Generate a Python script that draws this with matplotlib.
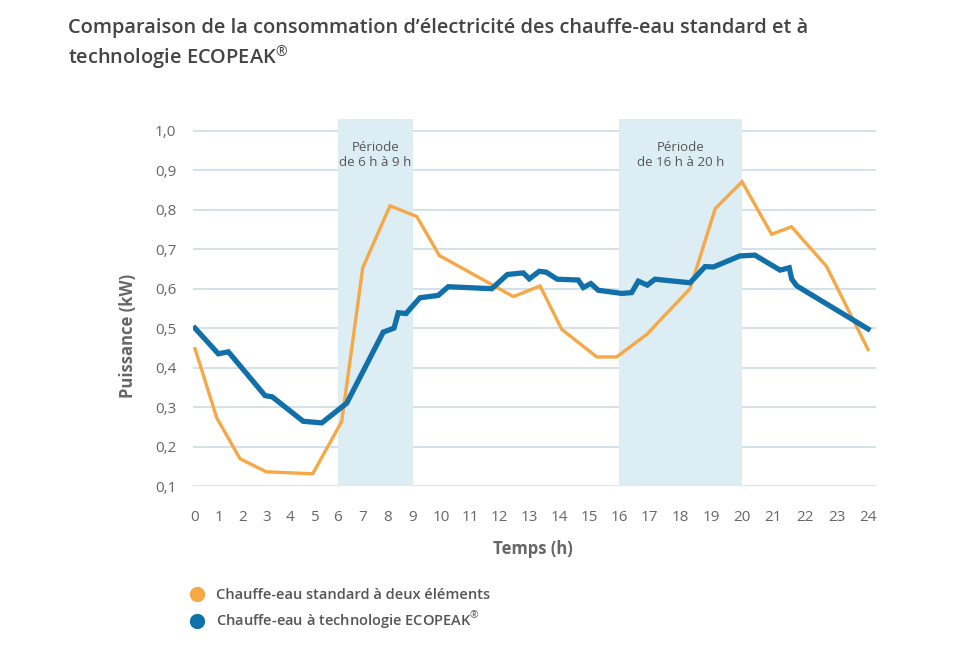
import numpy as np
import matplotlib
matplotlib.use('Agg')
import matplotlib.pyplot as plt
from matplotlib.lines import Line2D

plt.rcParams['font.family'] = ['Open Sans', 'DejaVu Sans']
plt.rcParams['mathtext.fontset'] = 'custom'
plt.rcParams['mathtext.rm'] = 'Open Sans'
plt.rcParams['mathtext.bf'] = 'Open Sans:bold'

# data
std_hours = [0, 0.91, 1.89, 2.99, 4.94, 6.15, 6.99, 8.08, 9.13, 9.92, 12.48, 13.37,
             14.09, 15.26, 15.92, 16.90, 18.31, 19.13, 20.0, 20.94, 21.57, 22.68, 24]
std_kw = [0.448, 0.273, 0.169, 0.136, 0.131, 0.264, 0.653, 0.81, 0.783, 0.684, 0.58, 0.607,
          0.497, 0.427, 0.427, 0.484, 0.60, 0.803, 0.871, 0.738, 0.757, 0.657, 0.446]

eco_hours = [0, 0.98, 1.40, 2.94, 3.24, 4.54, 5.32, 6.35, 7.81, 8.24, 8.41, 8.72, 9.24,
             9.88, 10.23, 11.75, 12.28, 12.81, 13.01, 13.34, 13.57, 13.94, 14.64, 14.81,
             15.06, 15.31, 16.09, 16.41, 16.63, 16.92, 17.17, 18.31, 18.80, 19.07, 19.93,
             20.41, 21.21, 21.50, 21.58, 21.74, 24]
eco_kw = [0.50, 0.435, 0.44, 0.329, 0.326, 0.264, 0.26, 0.31, 0.49, 0.50, 0.539, 0.537, 0.577,
          0.583, 0.605, 0.60, 0.636, 0.64, 0.625, 0.644, 0.642, 0.624, 0.622, 0.603,
          0.613, 0.596, 0.588, 0.59, 0.619, 0.609, 0.624, 0.615, 0.656, 0.655, 0.683,
          0.685, 0.647, 0.653, 0.624, 0.607, 0.498]

periods = [(6, 9), (16, 20)]
period_labels = ['Période\nde 6 h à 9 h', 'Période\nde 16 h à 20 h']
hour_ticks = list(range(0, 25))
kw_ticks = [0.1, 0.2, 0.3, 0.4, 0.5, 0.6, 0.7, 0.8, 0.9, 1.0]

ORANGE = '#f7a846'
BLUE = '#1170aa'
GREY = '#666666'

# the hour axis of the original is not evenly spaced
hk = np.array([-1, 0, 6, 9, 12, 16, 20, 24, 25], dtype=float)
pk = np.array([171.2, 195, 338, 413, 499, 619, 742, 868, 899.5])


def fwd(h):
    return np.interp(h, hk, pk)


def inv(p):
    return np.interp(p, pk, hk)


fig = plt.figure(figsize=(9.79, 6.53), dpi=100)
ax = fig.add_axes([193 / 979, 1 - 486 / 653, 683 / 979, 367 / 653])
ax.set_xscale('function', functions=(fwd, inv))

for (a, b), lab in zip(periods, period_labels):
    ax.axvspan(a, b, color='#dcedf3', lw=0, zorder=1)
    ax.text((a + b) / 2, 0.940, lab, ha='center', va='center', fontsize=9.5,
            color='#555555', linespacing=1.2, zorder=3)

ax.plot(std_hours, std_kw, color=ORANGE, lw=2.4, zorder=4, solid_joinstyle='miter')
ax.plot(eco_hours, eco_kw, color=BLUE, lw=3.8, zorder=5, solid_joinstyle='miter')

ax.set_xlim(inv(193), inv(876))
ax.set_ylim(0.1, 1.03)
ax.set_xticks(hour_ticks)
ax.set_xticklabels([str(h) for h in hour_ticks])
ax.set_yticks(kw_ticks)
ax.set_yticklabels([f'{v:.1f}'.replace('.', ',') for v in kw_ticks])
ax.xaxis.set_minor_locator(matplotlib.ticker.NullLocator())
ax.tick_params(length=0, labelsize=11, labelcolor=GREY)
ax.tick_params(axis='x', pad=17)
ax.tick_params(axis='y', pad=12)
for s in ax.spines.values():
    s.set_visible(False)
ax.set_axisbelow(True)
ax.grid(axis='y', color='#cfdfe8', lw=1.3)
ax.grid(axis='x', visible=False)

ax.text(-0.095, 0.41, 'Puissance (kW)', transform=ax.transAxes, rotation=90,
        ha='center', va='center', fontsize=12, fontweight='bold', color=GREY)
ax.text(0.498, -0.172, 'Temps (h)', transform=ax.transAxes,
        ha='center', va='center', fontsize=12, fontweight='bold', color=GREY)

fig.text(68 / 979, 1 - 18 / 653,
         "Comparaison de la consommation d’électricité des chauffe-eau standard et à\n"
         "technologie ECOPEAK$^{®}$",
         ha='left', va='top', fontsize=14.4, fontweight='semibold', color='#444444',
         linespacing=1.25)

handles = [Line2D([], [], ls='', marker='o', ms=10, color=ORANGE),
           Line2D([], [], ls='', marker='o', ms=10, color=BLUE)]
fig.legend(handles, ['Chauffe-eau standard à deux éléments',
                     'Chauffe-eau à technologie ECOPEAK$^{®}$'],
           loc='upper left', bbox_to_anchor=(190 / 979, 1 - 588 / 653),
           frameon=False, borderpad=0, borderaxespad=0, handlelength=1.0,
           handletextpad=0.8, labelspacing=0.55,
           prop={'size': 10.5, 'weight': 'semibold'}, labelcolor='#555555')

fig.savefig('out.png', dpi=100)
